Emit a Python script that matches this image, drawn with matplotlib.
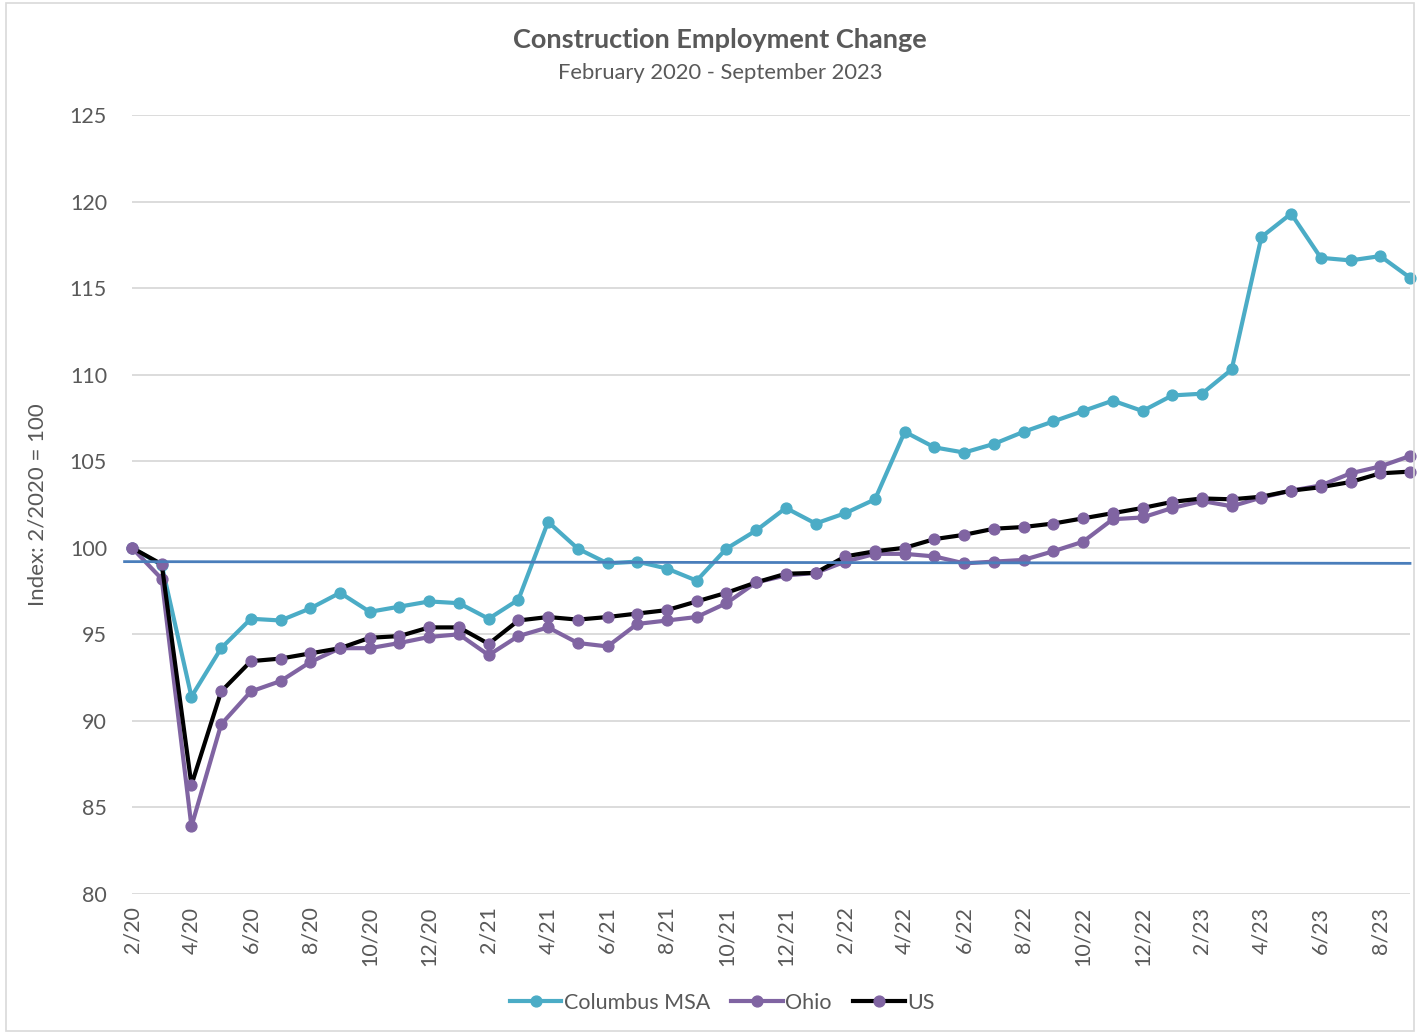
import matplotlib
matplotlib.use("Agg")
import matplotlib.pyplot as plt
from matplotlib.lines import Line2D
from matplotlib.patches import Rectangle

months = ["2/20", "3/20", "4/20", "5/20", "6/20", "7/20", "8/20", "9/20", "10/20", "11/20", "12/20",
          "1/21", "2/21", "3/21", "4/21", "5/21", "6/21", "7/21", "8/21", "9/21", "10/21", "11/21", "12/21",
          "1/22", "2/22", "3/22", "4/22", "5/22", "6/22", "7/22", "8/22", "9/22", "10/22", "11/22", "12/22",
          "1/23", "2/23", "3/23", "4/23", "5/23", "6/23", "7/23", "8/23", "9/23"]

columbus = [100.0, 99.0, 91.4, 94.2, 95.9, 95.8, 96.5, 97.4, 96.3, 96.6, 96.9,
            96.8, 95.9, 97.0, 101.5, 99.95, 99.1, 99.2, 98.8, 98.1, 99.95, 101.0, 102.3,
            101.4, 102.0, 102.8, 106.7, 105.8, 105.5, 106.0, 106.7, 107.3, 107.9, 108.5, 107.9,
            108.8, 108.9, 110.3, 117.95, 119.3, 116.75, 116.6, 116.85, 115.6]

ohio = [100.0, 98.2, 83.9, 89.8, 91.7, 92.3, 93.4, 94.2, 94.2, 94.5, 94.85,
        95.0, 93.8, 94.9, 95.4, 94.5, 94.3, 95.6, 95.8, 96.0, 96.8, 98.0, 98.4,
        98.55, 99.2, 99.65, 99.65, 99.5, 99.1, 99.2, 99.3, 99.8, 100.35, 101.65, 101.75,
        102.3, 102.7, 102.4, 102.9, 103.3, 103.6, 104.3, 104.7, 105.3]

us = [100.0, 99.05, 86.3, 91.7, 93.45, 93.6, 93.9, 94.2, 94.8, 94.9, 95.4,
      95.4, 94.45, 95.8, 96.0, 95.85, 96.0, 96.2, 96.4, 96.9, 97.4, 98.0, 98.5,
      98.55, 99.5, 99.8, 100.0, 100.5, 100.75, 101.1, 101.2, 101.4, 101.7, 102.0, 102.3,
      102.65, 102.85, 102.8, 102.95, 103.3, 103.5, 103.8, 104.3, 104.4]

ref_line = [99.2, 99.1]

text_col = "#595959"
c_col = "#4BACC6"
o_col = "#8064A2"
us_col = "#000000"
ref_col = "#4A7EBB"

plt.rcParams['font.family'] = ['Lato', 'DejaVu Sans']

fig = plt.figure(figsize=(14.2, 10.34), dpi=100)
fig.patches.append(Rectangle((0.004, 0.003), 0.992, 0.994, transform=fig.transFigure,
                             fill=False, edgecolor="#d9d9d9", linewidth=1.2))
ax = fig.add_axes([132/1420, 1-894/1034, 1278/1420, 779/1034])

x = list(range(len(months)))
ms = 7.8
lw = 3.0
ax.plot(x, columbus, color=c_col, lw=lw, marker='o', ms=ms, zorder=3, clip_on=False, label="Columbus MSA")
ax.plot(x, ohio, color=o_col, lw=lw, marker='o', ms=ms, zorder=4, clip_on=False, label="Ohio")
ax.plot(x, us, color=us_col, lw=lw, marker='o', ms=ms, mfc=o_col, mec=o_col, zorder=5, clip_on=False, label="US")
ax.plot([-0.25, len(months) - 1], ref_line, color=ref_col, lw=2.0, zorder=6, clip_on=False)

ax.set_xlim(0, len(months) - 1)
ax.set_ylim(80, 125)
ax.set_yticks(range(80, 126, 5))
ax.set_xticks(x[::2])
ax.set_xticklabels(months[::2], rotation=90)
ax.yaxis.grid(True, color="#d9d9d9", lw=1.3)
ax.set_axisbelow(True)
for s in ax.spines.values():
    s.set_visible(False)
ax.tick_params(axis='both', length=0, labelsize=15.5, colors=text_col)
ax.tick_params(axis='x', pad=9)
ax.tick_params(axis='y', pad=18)

ax.set_ylabel("Index: 2/2020 = 100", fontsize=16, color=text_col, labelpad=16)

fig.text(720/1420, 1-40/1034, "Construction Employment Change", ha='center', va='center',
         fontsize=19.5, fontweight='bold', color=text_col)
fig.text(720/1420, 1-73/1034, "February 2020 - September 2023", ha='center', va='center',
         fontsize=15.8, color=text_col)

handles = [Line2D([], [], color=c_col, lw=lw, marker='o', ms=ms),
           Line2D([], [], color=o_col, lw=lw, marker='o', ms=ms),
           Line2D([], [], color=us_col, lw=lw, marker='o', ms=ms, mfc=o_col, mec=o_col)]
fig.legend(handles, ["Columbus MSA", "Ohio", "US"], loc='center', bbox_to_anchor=(722/1420, 1-1003/1034),
           ncol=3, frameon=False, fontsize=15.5, handlelength=2.4, handletextpad=0.1, columnspacing=1.0,
           labelcolor=text_col)

fig.savefig("out.png", dpi=100)
